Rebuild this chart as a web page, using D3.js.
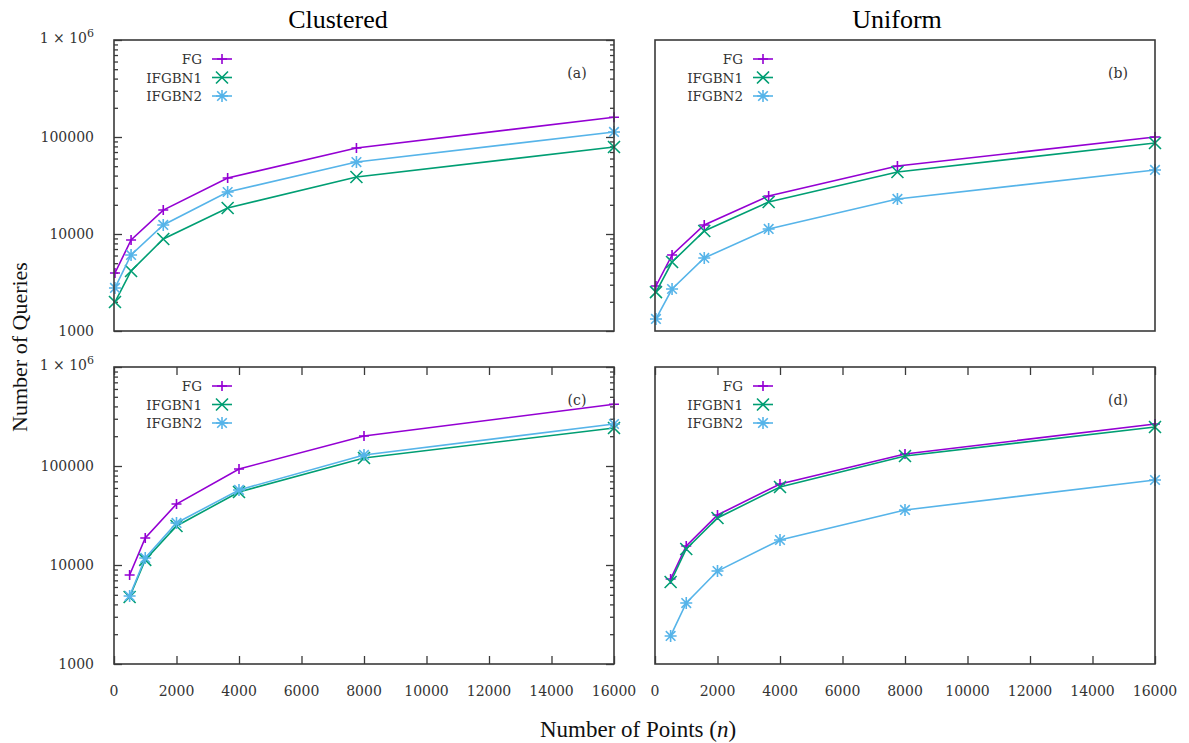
<!DOCTYPE html>
<html>
<head>
<meta charset="utf-8">
<script src="https://cdn.jsdelivr.net/npm/d3@7"></script>
<style>
body { margin: 0; background: #fff; }
text { fill: #333; }
</style>
</head>
<body>
<script>
// x values (number of points)
var xPoints = [500, 1000, 2000, 4000, 8000, 16000];
var xTicks = [0, 2000, 4000, 6000, 8000, 10000, 12000, 14000, 16000];
var yTicks = [1000, 10000, 100000, 1000000];
var seriesNames = ["FG", "IFGBN1", "IFGBN2"];
var colTitles = ["Clustered", "Uniform"];
var panelLabels = ["(a)", "(b)", "(c)", "(d)"];

// (a) clustered, top
var aFG = [3960, 8670, 17660, 37800, 77000, 160000];
var aIFGBN1 = [1990, 4160, 8880, 18540, 38700, 78900];
var aIFGBN2 = [2780, 6080, 12390, 27100, 55200, 112700];
// (b) uniform, top
var bFG = [2910, 6080, 12390, 24650, 50200, 100000];
var bIFGBN1 = [2520, 5140, 10740, 21400, 43600, 86700];
var bIFGBN2 = [1330, 2710, 5660, 11270, 22960, 45700];
// (c) clustered, bottom
var cFG = [7920, 18740, 41300, 93300, 200900, 420000];
var cIFGBN1 = [4750, 11250, 24800, 54600, 120500, 242000];
var cIFGBN2 = [4860, 11780, 26580, 57300, 129200, 265600];
// (d) uniform, bottom
var dFG = [7220, 15570, 32000, 65800, 132200, 265600];
var dIFGBN1 = [6730, 14500, 29840, 61400, 126200, 247500];
var dIFGBN2 = [1920, 4130, 8690, 17890, 35960, 72200];

var colors = ["#9400d3", "#009e73", "#56b4e9"];
var frameColor = "#3a3a3a";
var tickFont = "'DejaVu Serif', 'Liberation Serif', serif";

var width = 1189, height = 743;
var svg = d3.select("body").append("svg")
	.attr("width", width)
	.attr("height", height);

var panels = [
	{ x0: 114, x1: 614, y0: 40, y1: 331, xmin: 470, data: [aFG, aIFGBN1, aIFGBN2], label: panelLabels[0], yLabels: true, yTicks: true, xTicks: false },
	{ x0: 655, x1: 1155, y0: 40, y1: 331, xmin: 470, data: [bFG, bIFGBN1, bIFGBN2], label: panelLabels[1], yLabels: false, yTicks: false, xTicks: false },
	{ x0: 114, x1: 614, y0: 367, y1: 664, xmin: 0, data: [cFG, cIFGBN1, cIFGBN2], label: panelLabels[2], yLabels: true, yTicks: true, xTicks: true },
	{ x0: 655, x1: 1155, y0: 367, y1: 664, xmin: 0, data: [dFG, dIFGBN1, dIFGBN2], label: panelLabels[3], yLabels: false, yTicks: false, xTicks: true }
];

function markerPath(type, s) {
	if (type === 0) return "M" + (-s) + ",0H" + s + "M0," + (-s) + "V" + s;
	if (type === 1) return "M" + (-s) + "," + (-s) + "L" + s + "," + s + "M" + (-s) + "," + s + "L" + s + "," + (-s);
	var d = s * 0.8;
	return "M" + (-s) + ",0H" + s + "M0," + (-s) + "V" + s +
		"M" + (-d) + "," + (-d) + "L" + d + "," + d + "M" + (-d) + "," + d + "L" + d + "," + (-d);
}

panels.forEach(function(p) {
	var x = d3.scaleLinear().domain([p.xmin, 16000]).range([p.x0, p.x1]);
	var y = d3.scaleLog().domain([1000, 1000000]).range([p.y1, p.y0]);
	var g = svg.append("g");

	// y ticks (major + minor), left and mirrored right
	if (p.yTicks) {
		var minor = [];
		for (var e = 3; e < 6; e++) {
			for (var m = 2; m <= 9; m++) minor.push(m * Math.pow(10, e));
		}
		var left = d3.axisRight(y).tickValues(yTicks).tickSize(8).tickFormat("");
		var leftMinor = d3.axisRight(y).tickValues(minor).tickSize(4).tickFormat("");
		var right = d3.axisLeft(y).tickValues(yTicks).tickSize(8).tickFormat("");
		var rightMinor = d3.axisLeft(y).tickValues(minor).tickSize(4).tickFormat("");
		[[left, p.x0], [leftMinor, p.x0], [right, p.x1], [rightMinor, p.x1]].forEach(function(a) {
			var ax = g.append("g").attr("transform", "translate(" + a[1] + ",0)").call(a[0]);
			ax.select(".domain").remove();
			ax.selectAll("line").attr("stroke", frameColor).attr("stroke-width", 1.3);
		});
	}
	if (p.yLabels) {
		yTicks.forEach(function(v) {
			var t = g.append("text")
				.attr("x", 94)
				.attr("y", y(v) + 5)
				.attr("text-anchor", "end")
				.attr("font-family", tickFont)
				.attr("font-size", "14px");
			if (v === 1000000) {
				t.attr("y", y(v) + 3);
				t.append("tspan").text("1 \u00d7 10");
				t.append("tspan").attr("dy", -6).attr("font-size", "11px").text("6");
			} else {
				t.text(v);
			}
		});
	}
	if (p.xTicks) {
		var bottom = d3.axisTop(x).tickValues(xTicks).tickSize(8).tickFormat("");
		var top = d3.axisBottom(x).tickValues(xTicks).tickSize(8).tickFormat("");
		[[bottom, p.y1], [top, p.y0]].forEach(function(a) {
			var ax = g.append("g").attr("transform", "translate(0," + a[1] + ")").call(a[0]);
			ax.select(".domain").remove();
			ax.selectAll("line").attr("stroke", frameColor).attr("stroke-width", 1.3);
		});
		g.selectAll("text.xl")
			.data(xTicks)
			.enter()
			.append("text")
			.attr("class", "xl")
			.attr("x", function(d) { return x(d); })
			.attr("y", p.y1 + 32)
			.attr("text-anchor", "middle")
			.attr("font-family", tickFont)
			.attr("font-size", "14px")
			.text(function(d) { return d; });
	}

	// series lines and markers
	p.data.forEach(function(vals, si) {
		var pts = vals.map(function(v, i) { return [x(xPoints[i]), y(v)]; });
		g.append("path")
			.attr("d", d3.line()(pts))
			.attr("fill", "none")
			.attr("stroke", colors[si])
			.attr("stroke-width", 1.6);
		g.selectAll("path.m" + si)
			.data(pts)
			.enter()
			.append("path")
			.attr("class", "m" + si)
			.attr("transform", function(d) { return "translate(" + d[0] + "," + d[1] + ")"; })
			.attr("d", markerPath(si, si === 0 ? 5 : 6))
			.attr("fill", "none")
			.attr("stroke", colors[si])
			.attr("stroke-width", 1.6);
	});

	// frame
	g.append("rect")
		.attr("x", p.x0)
		.attr("y", p.y0)
		.attr("width", p.x1 - p.x0)
		.attr("height", p.y1 - p.y0)
		.attr("fill", "none")
		.attr("stroke", frameColor)
		.attr("stroke-width", 1.6);

	// legend
	seriesNames.forEach(function(name, si) {
		var ly = p.y0 + 19 + si * 18.5;
		g.append("text")
			.attr("x", p.x0 + 88)
			.attr("y", ly + 5)
			.attr("text-anchor", "end")
			.attr("font-family", tickFont)
			.attr("font-size", "13.5px")
			.text(name);
		g.append("line")
			.attr("x1", p.x0 + 98).attr("x2", p.x0 + 118)
			.attr("y1", ly).attr("y2", ly)
			.attr("stroke", colors[si]).attr("stroke-width", 1.6);
		g.append("path")
			.attr("transform", "translate(" + (p.x0 + 108) + "," + ly + ")")
			.attr("d", markerPath(si, si === 0 ? 5 : 6))
			.attr("fill", "none")
			.attr("stroke", colors[si])
			.attr("stroke-width", 1.6);
	});

	g.append("text")
		.attr("x", p.x1 - 37)
		.attr("y", p.y0 + 38)
		.attr("text-anchor", "middle")
		.attr("font-family", tickFont)
		.attr("font-size", "14px")
		.text(p.label);
});

// column titles
svg.selectAll("text.title")
	.data(colTitles)
	.enter()
	.append("text")
	.attr("class", "title")
	.attr("x", function(d, i) { return i === 0 ? 338 : 897; })
	.attr("y", 28)
	.attr("text-anchor", "middle")
	.attr("font-family", "'Liberation Serif', serif")
	.attr("font-size", "26px")
	.style("fill", "#000")
	.text(function(d) { return d; });

// axis titles
svg.append("text")
	.attr("transform", "translate(27,347) rotate(-90)")
	.attr("text-anchor", "middle")
	.attr("font-family", "'Liberation Serif', serif")
	.attr("font-size", "22px")
	.style("fill", "#111")
	.text("Number of Queries");

var xt = svg.append("text")
	.attr("x", 638)
	.attr("y", 737)
	.attr("text-anchor", "middle")
	.attr("font-family", "'Liberation Serif', serif")
	.attr("font-size", "23px")
	.style("fill", "#111");
xt.append("tspan").text("Number of Points (");
xt.append("tspan").attr("font-style", "italic").text("n");
xt.append("tspan").text(")");
</script>
</body>
</html>
